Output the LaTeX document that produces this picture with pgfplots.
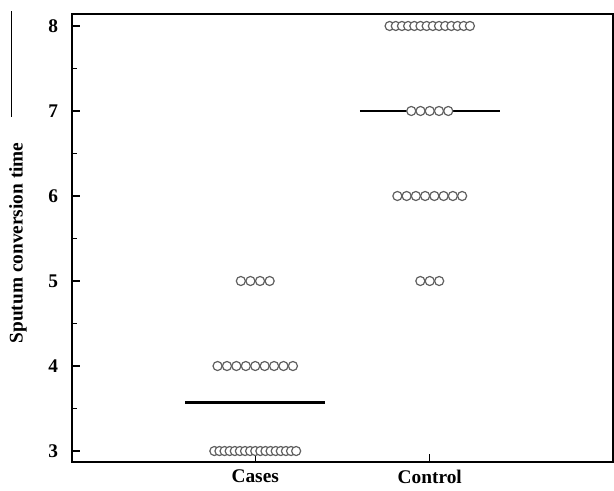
\documentclass[border=0pt]{standalone}
\usepackage{pgfplots}
\pgfplotsset{compat=1.18}
\usepackage{fontspec}
\setmainfont{Liberation Serif}
\begin{document}
\begin{tikzpicture}
\begin{axis}[
  scale only axis,
  width=405.75pt, height=336pt,
  at={(0,0)}, anchor=south west,
  xmin=-0.05, xmax=3.05,
  ymin=2.871, ymax=8.141,
  axis line style={line width=1.5pt},
  xtick={1,2}, xticklabels={Cases,Control},
  ytick={3,4,5,6,7,8},
  minor y tick num=1,
  tick align=inside,
  xtick pos=bottom, ytick pos=left,
  major tick length=6pt, minor tick length=3.5pt,
  tick style={line width=1pt, black},
  /pgf/number format/assume math mode=true,
  tick label style={font=\fontsize{14.5}{17}\selectfont\bfseries},
  yticklabel style={xshift=-7pt},
  xticklabel style={yshift=-2.5pt},
  ylabel={Sputum conversion time},
  every axis y label/.style={at={(axis description cs:-0.0998,0.489)}, rotate=90, anchor=center, font=\fontsize{14.5}{17}\selectfont\bfseries},
  clip=false,
]
% mean lines
\addplot[black, line width=2.2pt] coordinates {(0.6,3.567) (1.4,3.567)};
\addplot[black, line width=2.2pt] coordinates {(1.6,7.0) (2.4,7.0)};
% Cases
\addplot[only marks, mark=*, mark size=3.4pt, mark options={fill=white, draw=gray!75!black, line width=0.9pt}] coordinates {
(0.7656,3) (0.7949,3) (0.8242,3) (0.8535,3) (0.8828,3) (0.9121,3) (0.9414,3) (0.9707,3) (1.0,3) (1.0293,3) (1.0586,3) (1.0879,3) (1.1172,3) (1.1465,3) (1.1758,3) (1.2051,3) (1.2344,3)
(0.784,4) (0.838,4) (0.892,4) (0.946,4) (1.0,4) (1.054,4) (1.108,4) (1.162,4) (1.216,4)
(0.9175,5) (0.9725,5) (1.0275,5) (1.0825,5)
};
% Control
\addplot[only marks, mark=*, mark size=3.4pt, mark options={fill=white, draw=gray!75!black, line width=0.9pt}] coordinates {
(1.946,5) (2.0,5) (2.054,5)
(1.8145,6) (1.8675,6) (1.9205,6) (1.9735,6) (2.0265,6) (2.0795,6) (2.1325,6) (2.1855,6)
(1.894,7) (1.947,7) (2.0,7) (2.053,7) (2.106,7)
(1.7699,8) (1.8053,8) (1.8407,8) (1.8761,8) (1.9115,8) (1.9469,8) (1.9823,8) (2.0177,8) (2.0531,8) (2.0885,8) (2.1239,8) (2.1593,8) (2.1947,8) (2.2301,8)
};
\end{axis}
\draw[line width=0.6pt] (-45.75pt,258.75pt) -- (-45.75pt,338.25pt);
\pgfresetboundingbox
\useasboundingbox (-54pt,-21.75pt) rectangle (406.5pt,346.5pt);
\end{tikzpicture}
\end{document}
